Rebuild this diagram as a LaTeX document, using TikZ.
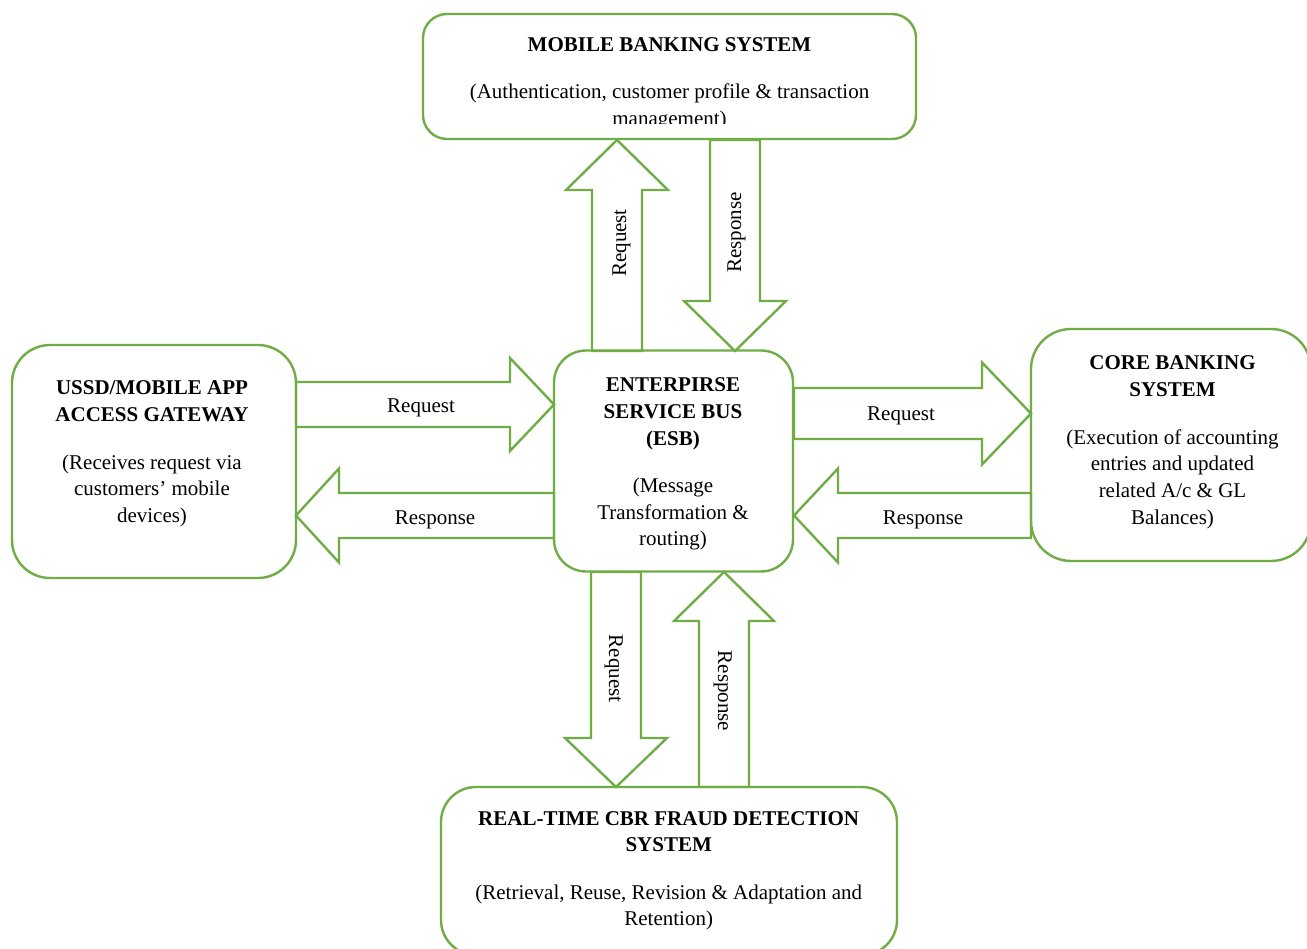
\documentclass[tikz,border=0pt]{standalone}
\usepackage{fontspec}
\setmainfont{Liberation Serif}
\definecolor{esbgreen}{RGB}{112,173,71}

% vertical block arrow: x centre, tail y, head-base y, tip y, shaft half-width, head half-width
\newcommand{\flowV}[6]{%
  \draw[flow] ({#1-#5},#2) -- ({#1-#5},#3) -- ({#1-#6},#3) -- (#1,#4)
    -- ({#1+#6},#3) -- ({#1+#5},#3) -- ({#1+#5},#2) -- cycle;}
% horizontal block arrow: y centre, tail x, head-base x, tip x, shaft half-width, head half-width
\newcommand{\flowH}[6]{%
  \draw[flow] (#2,{#1-#5}) -- (#3,{#1-#5}) -- (#3,{#1-#6}) -- (#4,#1)
    -- (#3,{#1+#6}) -- (#3,{#1+#5}) -- (#2,{#1+#5}) -- cycle;}

\begin{document}
\begin{tikzpicture}[x=1pt,y=-1pt,
  sysbox/.style={draw=esbgreen, line width=2.4pt, rounded corners=#1,
    fill=white, inner sep=0pt, rectangle},
  flow/.style={draw=esbgreen, line width=2.4pt, line join=miter},
  boxtext/.style={inner sep=0pt, anchor=base, font=\fontsize{21}{26.7}\selectfont},
  flowlabel/.style={inner sep=0pt, anchor=base, font=\fontsize{21}{25}\selectfont}]

\clip (0,0) rectangle (1307,949);
\fill[white] (0,0) rectangle (1307,949);

% system boxes
\node[sysbox=24, minimum width=493pt, minimum height=125pt] (mbs) at (669.5,76.5) {};
\node[sysbox=38, minimum width=284pt, minimum height=233pt] (gw)  at (154,461.5) {};
\node[sysbox=32, minimum width=239pt, minimum height=221pt] (esb) at (673.5,461) {};
\node[sysbox=40, minimum width=280pt, minimum height=232pt] (cbs) at (1171,445) {};
\node[sysbox=35, minimum width=456pt, minimum height=168pt] (fds) at (669,871) {};

% box texts
\node[boxtext] (mbsT) at (669.5,51.7) {\bfseries MOBILE BANKING SYSTEM};
\begin{scope}
  \clip (423,14) rectangle (916,123.3);
  \node[boxtext] (mbsD) at (669.5,99) {\begin{tabular}[t]{@{}c@{}}
    (Authentication, customer profile \& transaction\\ management)\end{tabular}};
\end{scope}

\node[boxtext] (gwT) at (152,395) {\begin{tabular}[t]{@{}c@{}}
  \bfseries USSD/MOBILE APP\\ \bfseries ACCESS GATEWAY\\[20.8pt]
  (Receives request via\\ customers’ mobile\\ devices)\end{tabular}};

\node[boxtext] (esbT) at (673,391.7) {\begin{tabular}[t]{@{}c@{}}
  \bfseries ENTERPIRSE\\ \bfseries SERVICE BUS\\ \bfseries (ESB)\\[20.8pt]
  (Message\\ Transformation \&\\ routing)\end{tabular}};

\node[boxtext] (cbsT) at (1172.5,370) {\begin{tabular}[t]{@{}c@{}}
  \bfseries CORE BANKING\\ \bfseries SYSTEM\\[20.8pt]
  (Execution of accounting\\ entries and updated\\ related A/c \& GL\\ Balances)\end{tabular}};

\node[boxtext] (fdsT) at (668.7,825) {\begin{tabular}[t]{@{}c@{}}
  \bfseries REAL-TIME CBR FRAUD DETECTION\\ \bfseries SYSTEM\\[20.8pt]
  (Retrieval, Reuse, Revision \& Adaptation and\\ Retention)\end{tabular}};

% ESB <-> mobile banking system
\flowV{617}{351}{190}{140}{25}{51}
\flowV{735}{140}{301}{351}{25}{51}
% ESB <-> fraud detection system
\flowV{616}{572}{738}{787}{25}{51}
\flowV{724}{787}{621}{572}{25}{50}
% gateway <-> ESB
\flowH{404.5}{296}{510}{554}{22.5}{46.5}
\flowH{515.5}{554}{339}{296}{22.5}{47}
% ESB <-> core banking system
\flowH{413.5}{794}{982}{1031}{25.5}{51}
\flowH{515.5}{1031}{838}{794}{22.5}{47}

% flow labels
\node[flowlabel, rotate=90]  (l1) at (626,243) {Request};
\node[flowlabel, rotate=90]  (l2) at (741,232.5) {Response};
\node[flowlabel, rotate=-90] (l3) at (609,668.7) {Request};
\node[flowlabel, rotate=-90] (l4) at (718,691) {Response};
\node[flowlabel] (l5) at (421,413) {Request};
\node[flowlabel] (l6) at (435,524) {Response};
\node[flowlabel] (l7) at (901,420.7) {Request};
\node[flowlabel] (l8) at (923,524) {Response};

\end{tikzpicture}
\end{document}
